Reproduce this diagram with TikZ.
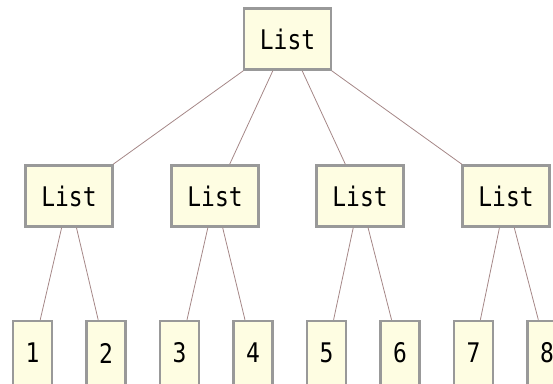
\documentclass[tikz,border=0pt]{standalone}
\usepackage{fontspec}
\setmonofont[FakeStretch=0.85]{DejaVu Sans Mono}
\usetikzlibrary{positioning}

\definecolor{boxfill}{RGB}{254,253,226}
\definecolor{boxline}{RGB}{153,153,153}
\definecolor{edgeline}{RGB}{165,135,135}

\begin{document}
\begin{tikzpicture}[
    x=1pt, y=-1pt,
    listbox/.style={rectangle, draw=boxline, fill=boxfill, line width=2.5pt, minimum width=87pt, minimum height=61pt, inner sep=0pt, font=\ttfamily\fontsize{27}{32}\selectfont},
    leafbox/.style={listbox, minimum width=39pt, minimum height=64pt},
    edge/.style={draw=edgeline, line width=0.8pt}
]
    \useasboundingbox (0,0) rectangle (553,383);

    % Root
    \node[listbox] (root) at (287.5,39) {List};

    % Inner lists
    \node[listbox] (l1) at (69,196) {List};
    \node[listbox] (l2) at (215,196) {List};
    \node[listbox] (l3) at (360,196) {List};
    \node[listbox] (l4) at (506,196) {List};

    % Leaves
    \node[leafbox] (n1) at (32.5,353) {1};
    \node[leafbox, right=32pt of n1] (n2) {2};
    \node[leafbox, right=32pt of n2] (n3) {3};
    \node[leafbox, right=32pt of n3] (n4) {4};
    \node[leafbox, right=32pt of n4] (n5) {5};
    \node[leafbox, right=32pt of n5] (n6) {6};
    \node[leafbox, right=32pt of n6] (n7) {7};
    \node[leafbox, right=32pt of n7] (n8) {8};

    % Edges
    \draw[edge] (root) -- (l1);
    \draw[edge] (root) -- (l2);
    \draw[edge] (root) -- (l3);
    \draw[edge] (root) -- (l4);
    \draw[edge] (l1) -- (n1);
    \draw[edge] (l1) -- (n2);
    \draw[edge] (l2) -- (n3);
    \draw[edge] (l2) -- (n4);
    \draw[edge] (l3) -- (n5);
    \draw[edge] (l3) -- (n6);
    \draw[edge] (l4) -- (n7);
    \draw[edge] (l4) -- (n8);

\end{tikzpicture}
\end{document}
